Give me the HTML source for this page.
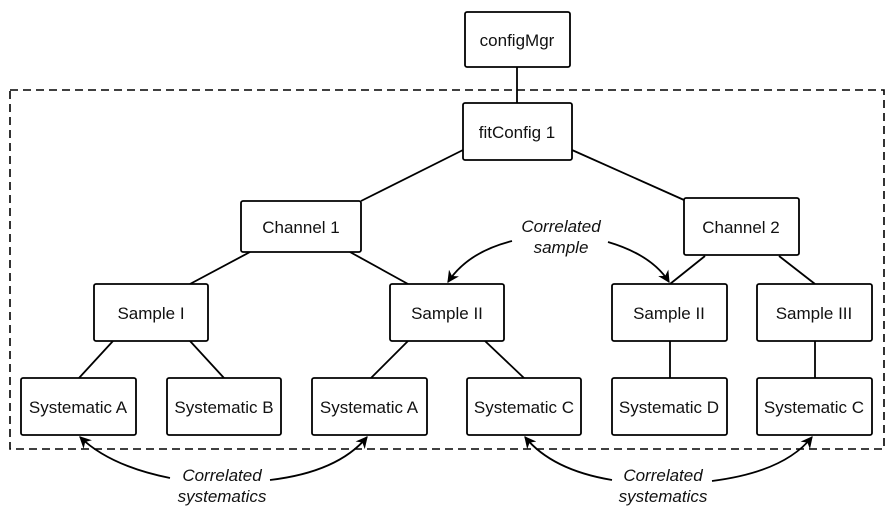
<!DOCTYPE html>
<html><head><style>
body{margin:0;background:#fff;}
svg{display:block;}
text{font-family:"Liberation Sans",Arial,sans-serif;font-size:17px;fill:#111;}
.i{font-style:italic;}
</style></head><body>
<svg width="894" height="519" viewBox="0 0 894 519" xmlns="http://www.w3.org/2000/svg">
<defs><marker id="a" viewBox="0 0 10 10" refX="9" refY="5" markerWidth="12" markerHeight="12" orient="auto-start-reverse" markerUnits="userSpaceOnUse"><path d="M0,0 L10,5 L0,10 L3,5 Z" fill="#000"/></marker></defs>
<rect x="10" y="90" width="874" height="359" fill="none" stroke="#000" stroke-width="1.6" stroke-dasharray="8,5"/>
<g stroke="#000" stroke-width="1.8" fill="none">
<line x1="517" y1="67" x2="517" y2="103"/>
<line x1="463" y1="150" x2="361" y2="201"/>
<line x1="572" y1="150" x2="684" y2="200"/>
<line x1="250" y1="252" x2="190" y2="284"/>
<line x1="350" y1="252" x2="408" y2="284"/>
<line x1="705" y1="256" x2="670" y2="284"/>
<line x1="779" y1="256" x2="815" y2="284"/>
<line x1="113" y1="341" x2="79" y2="378"/>
<line x1="190" y1="341" x2="224" y2="378"/>
<line x1="408" y1="341" x2="371" y2="378"/>
<line x1="485" y1="341" x2="524" y2="378"/>
<line x1="670" y1="341" x2="670" y2="378"/>
<line x1="815" y1="341" x2="815" y2="378"/>
</g>
<g stroke="#000" stroke-width="1.8" fill="#fff">
<rect x="465" y="12" width="105" height="55" rx="2"/>
<rect x="463" y="103" width="109" height="57" rx="2"/>
<rect x="241" y="201" width="120" height="51" rx="2"/>
<rect x="684" y="198" width="115" height="57" rx="2"/>
<rect x="94" y="284" width="114" height="57" rx="2"/>
<rect x="390" y="284" width="114" height="57" rx="2"/>
<rect x="612" y="284" width="115" height="57" rx="2"/>
<rect x="757" y="284" width="115" height="57" rx="2"/>
<rect x="21" y="378" width="115" height="57" rx="2"/>
<rect x="167" y="378" width="114" height="57" rx="2"/>
<rect x="312" y="378" width="115" height="57" rx="2"/>
<rect x="467" y="378" width="114" height="57" rx="2"/>
<rect x="612" y="378" width="115" height="57" rx="2"/>
<rect x="757" y="378" width="115" height="57" rx="2"/>
</g>
<g text-anchor="middle">
<text x="517" y="46">configMgr</text>
<text x="517" y="138">fitConfig 1</text>
<text x="301" y="233">Channel 1</text>
<text x="741" y="233">Channel 2</text>
<text x="151" y="319">Sample I</text>
<text x="447" y="319">Sample II</text>
<text x="669" y="319">Sample II</text>
<text x="814" y="319">Sample III</text>
<text x="78" y="413">Systematic A</text>
<text x="224" y="413">Systematic B</text>
<text x="369" y="413">Systematic A</text>
<text x="524" y="413">Systematic C</text>
<text x="669" y="413">Systematic D</text>
<text x="814" y="413">Systematic C</text>
<text class="i" x="561" y="232">Correlated</text>
<text class="i" x="561" y="253">sample</text>
<text class="i" x="222" y="481">Correlated</text>
<text class="i" x="222" y="502">systematics</text>
<text class="i" x="663" y="481">Correlated</text>
<text class="i" x="663" y="502">systematics</text>
</g>
<g stroke="#000" stroke-width="1.8" fill="none">
<path d="M512,241 Q468,252 448,282" marker-end="url(#a)"/>
<path d="M608,242 Q652,255 669,282" marker-end="url(#a)"/>
<path d="M170,478 Q110,466 80,437" marker-end="url(#a)"/>
<path d="M270,480 Q338,472 367,437" marker-end="url(#a)"/>
<path d="M612,480 Q552,470 525,437" marker-end="url(#a)"/>
<path d="M712,481 Q784,472 812,437" marker-end="url(#a)"/>
</g>
</svg>
</body></html>
